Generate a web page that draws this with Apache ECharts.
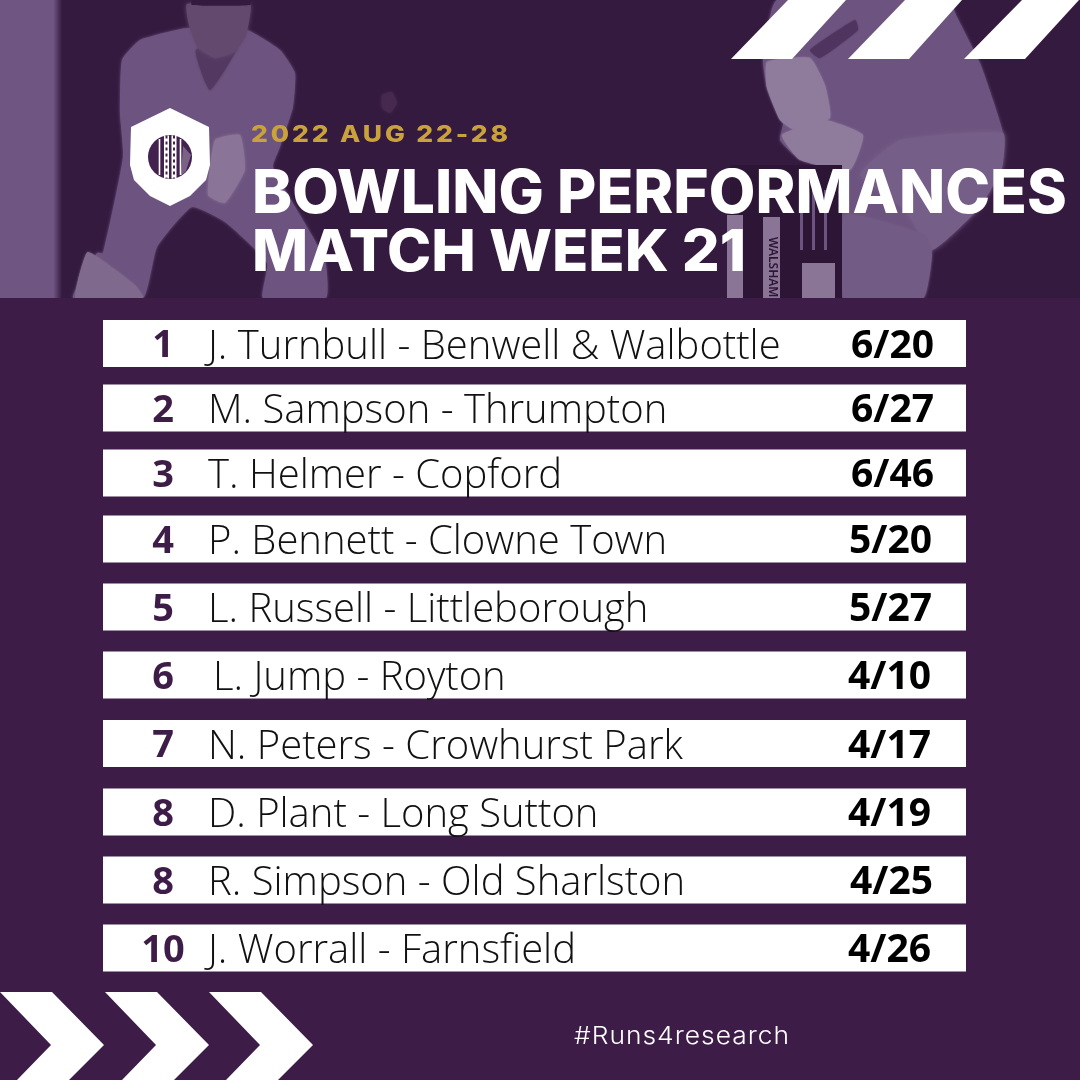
<!DOCTYPE html>
<html lang="en">
<head>
<meta charset="UTF-8" />
<title>Bowling Performances Match Week 21</title>
<script src="https://cdn.jsdelivr.net/npm/echarts@6/dist/echarts.min.js"></script>
<style>
  html, body { margin: 0; padding: 0; background: #3d1c47; }
  #main { width: 1080px; height: 1080px; }
</style>
</head>
<body>
<div id="main"></div>
<script>
// table data
const ranks = ['1', '2', '3', '4', '5', '6', '7', '8', '8', '10'];
const players = ['J. Turnbull', 'M. Sampson', 'T. Helmer', 'P. Bennett', 'L. Russell', 'L. Jump', 'N. Peters', 'D. Plant', 'R. Simpson', 'J. Worrall'];
const clubs = ['Benwell & Walbottle', 'Thrumpton', 'Copford', 'Clowne Town', 'Littleborough', 'Royton', 'Crowhurst Park', 'Long Sutton', 'Old Sharlston', 'Farnsfield'];
const wickets = [6, 6, 6, 5, 5, 4, 4, 4, 4, 4];
const runs = [20, 27, 46, 20, 27, 10, 17, 19, 25, 26];

const dateText = '2022 AUG 22-28';
const titleLines = ['BOWLING PERFORMANCES', 'MATCH WEEK 21'];
const hashtag = '#Runs4research';

// the rows in the artwork are placed by hand, so they are not quite even
const rowNudge = [0, -2.7, -4.9, -6.2, -5.4, -4.6, -3.3, -2, -1.3, -0.5];
const nameNudge = [0, 0, 0, 0, 0, 5, 0, 0, 0, 0];
const figNudge = [3, 3, 3, 1, 1, 0, 0, 0, 2, 0];

const PURPLE = '#3d1c47';
const BODY = '#6d5480';

// zrender has no letter spacing, so set it on the context for the spaced strings
const spacing = { [dateText]: 2.5, [hashtag]: 0.9 };
const fillText = CanvasRenderingContext2D.prototype.fillText;
CanvasRenderingContext2D.prototype.fillText = function (t, x, y) {
    this.letterSpacing = (spacing[t] || 0) + 'px';
    fillText.call(this, t, x, y);
    this.letterSpacing = '0px';
};

function soft(points, color, blur) {
    return {
        type: 'polygon',
        silent: true,
        shape: { points: points, smooth: 0.15 },
        style: { fill: color, shadowBlur: blur === undefined ? 3 : blur, shadowColor: color }
    };
}

function hard(points, color, z) {
    return { type: 'polygon', silent: true, z: z || 5, shape: { points: points }, style: { fill: color || '#ffffff' } };
}

function box(x, y, w, h, color, z) {
    return { type: 'rect', silent: true, z: z || 0, shape: { x: x, y: y, width: w, height: h }, style: { fill: color } };
}

function seam(x, y1, y2, w, color, dash) {
    return {
        type: 'line', silent: true, z: 9,
        shape: { x1: x, y1: y1, x2: x, y2: y2 },
        style: { stroke: color, lineWidth: w, lineDash: dash || null }
    };
}

// faded photo behind the header
const photo = [
    box(0, 0, 1080, 298, '#351a40'),
    {
        type: 'rect', silent: true, shape: { x: 0, y: 0, width: 62, height: 298 },
        style: {
            fill: new echarts.graphic.LinearGradient(0, 0, 1, 0, [
                { offset: 0, color: '#6f5682' }, { offset: 0.86, color: '#6f5682' }, { offset: 1, color: '#351a40' }
            ])
        }
    },
    // keeper
    soft([[120, 113], [122, 60], [140, 40], [187, 28], [247, 30], [280, 50], [295, 73], [293, 107], [280, 147], [273, 167], [300, 215], [325, 260], [326, 298], [263, 298], [267, 263], [225, 222], [192, 207], [157, 247], [143, 298], [73, 298], [77, 287], [97, 253], [103, 253], [123, 157]], BODY),
    soft([[196, 50], [238, 45], [210, 90]], '#533862', 3),
    soft([[187, 4], [250, 4], [246, 35], [235, 52], [215, 58], [198, 48], [189, 25]], '#64496f', 4),
    soft([[192, 0], [250, 0], [250, 5], [192, 5]], '#341a3f', 1),
    soft([[88, 252], [135, 285], [143, 298], [76, 298], [78, 280]], '#7f6a8e', 2),
    soft([[215, 140], [240, 135], [245, 170], [225, 203], [208, 195]], '#8a7497', 3),
    // ball
    soft([[382, 95], [392, 92], [397, 103], [390, 113], [382, 108]], '#47294f', 3),
    // batter
    soft([[777, 0], [948, 0], [957, 17], [980, 63], [993, 100], [1003, 133], [1002, 167], [980, 207], [932, 250], [923, 298], [843, 298], [837, 213], [837, 170], [797, 157], [780, 140], [783, 123], [767, 87], [763, 60]], BODY),
    soft([[900, 140], [1003, 133], [1002, 167], [980, 207], [932, 250], [905, 210], [860, 175]], '#755f88', 5),
    soft([[845, 215], [925, 235], [932, 255], [923, 298], [845, 298]], '#725b84', 3),
    soft([[810, 50], [855, 20], [858, 30], [820, 58]], '#4f3460', 2),
    // gloves
    soft([[767, 62], [810, 58], [825, 85], [830, 118], [795, 130], [780, 120], [767, 88]], '#8f7b9b', 2),
    soft([[782, 135], [825, 120], [863, 135], [850, 170], [800, 160]], '#8f7b9b', 2),
    // bat and stumps
    box(730, 165, 112, 133, '#2d1536'),
    box(727, 215, 16, 83, '#8a7596'),
    box(763, 217, 17, 81, '#8a7596'),
    box(800, 190, 3, 60, '#6d5480'),
    box(812, 190, 3, 60, '#6d5480'),
    box(824, 190, 3, 60, '#6d5480'),
    box(802, 263, 33, 35, '#8a7596'),
    {
        type: 'text', silent: true, x: 772, y: 237, rotation: -Math.PI / 2,
        style: { text: 'WALSHAM', font: '600 12px "Noto Sans"', fill: '#2d1536', textVerticalAlign: 'middle' }
    },
    box(0, 298, 1080, 21, PURPLE, 3)
];

const decor = [
    // top stripes
    hard([[788, 0], [846, 0], [792, 59], [731, 59]]),
    hard([[905, 0], [962, 0], [909, 59], [848, 59]]),
    hard([[1022, 0], [1079, 0], [1025, 59], [964, 59]]),
    // bottom chevrons
    hard([[0, 992], [52, 992], [104, 1045], [69, 1080], [17, 1080], [51, 1045]]),
    hard([[105, 992], [157, 992], [209, 1045], [174, 1080], [122, 1080], [156, 1045]]),
    hard([[209, 992], [261, 992], [313, 1045], [278, 1080], [226, 1080], [260, 1045]]),
    // badge
    hard([[170, 108], [209, 127], [210, 165], [206, 180], [190, 196], [170, 206], [150, 196], [134, 180], [130, 165], [131, 127]], '#ffffff', 6),
    { type: 'circle', silent: true, z: 7, shape: { cx: 170, cy: 157, r: 22 }, style: { fill: '#43214f' } },
    hard([[183, 146], [191, 155], [186, 171], [181, 176]], '#7a6286', 8),
    seam(159.5, 139, 175, 1.6, '#ffffff'),
    seam(180.5, 139, 175, 1.6, '#ffffff'),
    seam(166.5, 135.5, 178.5, 5, '#ffffff'),
    seam(174, 135.5, 178.5, 5, '#ffffff'),
    seam(166.5, 135.5, 178.5, 2, '#43214f', [3, 3]),
    seam(174, 135.5, 178.5, 2, '#43214f', [3, 3])
];

function headerText(text, x, y, font, color, sx) {
    return {
        type: 'text', silent: true, z: 20, x: x, y: y, scaleX: sx || 1,
        style: { text: text, font: font, fill: color, textVerticalAlign: 'middle' }
    };
}

const texts = [
    headerText(dateText, 251, 135, '800 23px Inter', '#c9a33a', 1.15),
    headerText(titleLines[0], 252, 195, '800 60px Inter', '#ffffff', 1.007),
    headerText(titleLines[1], 252, 254, '800 58px Inter', '#ffffff', 1.027),
    headerText(hashtag, 574, 1037, '300 24px Inter', '#ffffff', 1.1)
];

function renderRow(params, api) {
    const i = api.value(1);
    const left = api.coord([0, i]);
    const right = api.coord([1, i]);
    const cy = left[1] + rowNudge[i];
    return {
        type: 'group',
        children: [
            { type: 'rect', shape: { x: left[0], y: cy - 23.5, width: right[0] - left[0], height: 47 }, style: { fill: '#ffffff' } },
            {
                type: 'text', x: 163, y: cy + 3,
                style: { text: ranks[i], font: '700 38px "Open Sans"', fill: PURPLE, textAlign: 'center', textVerticalAlign: 'middle' }
            },
            {
                type: 'text', x: 208 + nameNudge[i], y: cy + 4,
                style: { text: players[i] + ' - ' + clubs[i], font: '300 40px "Open Sans"', fill: '#111111', textVerticalAlign: 'middle' }
            },
            {
                type: 'text', x: 848 + figNudge[i], y: cy + 3,
                style: { text: wickets[i] + '/' + runs[i], font: '700 39px "Open Sans"', fill: '#000000', textVerticalAlign: 'middle' }
            }
        ]
    };
}

const myChart = echarts.init(document.getElementById('main'));
myChart.setOption({
    animation: false,
    backgroundColor: PURPLE,
    grid: { left: 103, right: 114, top: 310, bottom: 98 },
    xAxis: { type: 'value', min: 0, max: 1, show: false },
    yAxis: { type: 'category', inverse: true, show: false, data: ranks.map((r, i) => i) },
    graphic: photo.concat(decor, texts),
    series: [{
        type: 'custom',
        silent: true,
        renderItem: renderRow,
        encode: { x: 0, y: 1 },
        data: ranks.map((r, i) => [1, i])
    }]
});
</script>
</body>
</html>
